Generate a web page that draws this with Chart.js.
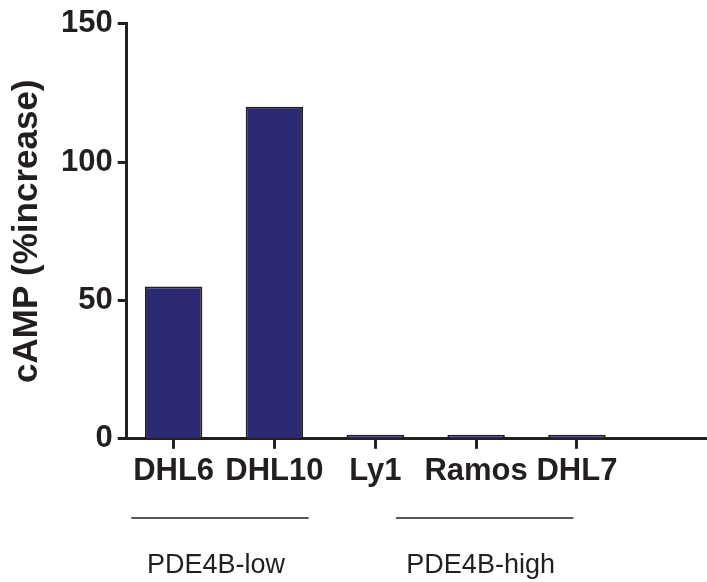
<!DOCTYPE html>
<html>
<head>
<meta charset="utf-8">
<script src="https://cdn.jsdelivr.net/npm/chart.js@4"></script>
<style>
  body { margin: 0; background: #fff; }
  #wrap { width: 707px; height: 582px; }
</style>
</head>
<body>
<div id="wrap"><canvas id="bars" width="707" height="582"></canvas></div>
<script>
const cellLines = ['DHL6', 'DHL10', 'Ly1', 'Ramos', 'DHL7'];
const campIncrease = [55, 120, 1.5, 1.5, 1.5];
const yTicks = [0, 50, 100, 150];
const groupNames = ['PDE4B-low', 'PDE4B-high'];
const groupMembers = [[0, 1], [2, 3, 4]];

const ink = '#231f20';
const font = 'Liberation Sans, Arial, Helvetica, sans-serif';

// lines + group names under the x axis
const groupPlugin = {
  id: 'groups',
  afterDraw(chart) {
    const ctx = chart.ctx;
    const x = chart.scales.x;
    const shift = [-0.04, 0.085];
    ctx.save();
    ctx.strokeStyle = ink;
    ctx.lineWidth = 1.5;
    ctx.fillStyle = ink;
    ctx.font = '27px ' + font;
    ctx.textAlign = 'center';
    ctx.textBaseline = 'middle';
    groupMembers.forEach((m, g) => {
      const mid = (m[0] + m[m.length - 1]) / 2 + shift[g];
      const x0 = x.getPixelForValue(mid - 0.88);
      const x1 = x.getPixelForValue(mid + 0.88);
      ctx.beginPath();
      ctx.moveTo(x0, 518);
      ctx.lineTo(x1, 518);
      ctx.stroke();
      ctx.fillText(groupNames[g], x.getPixelForValue(mid - 0.04), 566);
    });
    ctx.restore();
  }
};

new Chart(document.getElementById('bars').getContext('2d'), {
  type: 'bar',
  data: {
    datasets: [{
      data: campIncrease.map((v, i) => ({ x: i, y: v })),
      backgroundColor: '#2b2a72',
      borderColor: ink,
      borderWidth: 2,
      barPercentage: 0.57,
      categoryPercentage: 1
    }]
  },
  options: {
    responsive: false,
    animation: false,
    layout: { padding: { left: 6, right: 0, top: 10, bottom: 88 } },
    plugins: { legend: { display: false }, tooltip: { enabled: false } },
    scales: {
      x: {
        type: 'linear',
        min: -0.465,
        max: 5.29,
        offset: false,
        border: { color: ink, width: 3 },
        grid: { offset: false, drawOnChartArea: false, tickLength: 10, tickWidth: 3, tickColor: ink },
        afterBuildTicks: s => { s.ticks = cellLines.map((c, i) => ({ value: i })); },
        ticks: {
          autoSkip: false,
          maxRotation: 0,
          padding: 4,
          color: ink,
          font: { family: font, size: 31, weight: 'bold' },
          callback: v => cellLines[v]
        }
      },
      y: {
        min: 0,
        max: 150,
        border: { color: ink, width: 3 },
        grid: { drawOnChartArea: false, tickLength: 9, tickWidth: 3, tickColor: ink },
        afterBuildTicks: s => { s.ticks = yTicks.map(v => ({ value: v })); },
        ticks: {
          padding: 5,
          color: ink,
          font: { family: font, size: 31, weight: 'bold' }
        },
        title: {
          display: true,
          text: 'cAMP (%increase)',
          color: ink,
          padding: { top: 0, bottom: 8 },
          font: { family: font, size: 35, weight: 'bold' }
        }
      }
    }
  },
  plugins: [groupPlugin]
});
</script>
</body>
</html>
